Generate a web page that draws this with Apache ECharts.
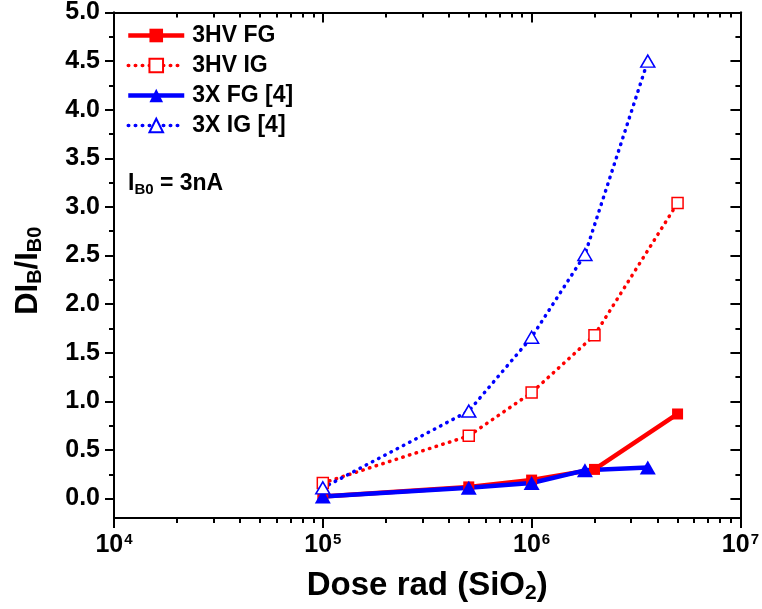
<!DOCTYPE html>
<html>
<head>
<meta charset="utf-8">
<script src="https://cdn.jsdelivr.net/npm/echarts@6/dist/echarts.min.js"></script>
<style>html,body{margin:0;padding:0;background:#fff}#c{width:762px;height:609px}</style>
</head>
<body>
<div id="c"></div>
<script>
// ---- data ----
const seriesNames = ['3HV FG', '3HV IG', '3X FG [4]', '3X IG [4]'];
const doseHV = [1e5, 5e5, 1e6, 2e6, 5e6];
const doseX = [1e5, 5e5, 1e6, 1.8e6, 3.6e6];
const hvFG = [0.02, 0.12, 0.19, 0.30, 0.87];
const hvIG = [0.16, 0.645, 1.09, 1.68, 3.04];
const xFG = [0.02, 0.11, 0.16, 0.29, 0.32];
const xIG = [0.11, 0.90, 1.66, 2.51, 4.50];
const xMajorTicks = [1e4, 1e5, 1e6, 1e7];
const xMinorTicks = [2e4,3e4,4e4,5e4,6e4,7e4,8e4,9e4,2e5,3e5,4e5,5e5,6e5,7e5,8e5,9e5,2e6,3e6,4e6,5e6,6e6,7e6,8e6,9e6];
const yMajorTicks = [0,0.5,1.0,1.5,2.0,2.5,3.0,3.5,4.0,4.5,5.0];
const yMinorTicks = [0.25,0.75,1.25,1.75,2.25,2.75,3.25,3.75,4.25,4.75];

const FONT = 'Liberation Sans, Arial, sans-serif';
const pairs = (xs, ys) => xs.map((x, i) => [x, ys[i]]);

function xAx(pos, ticks, len, inside, labels) {
  return {
    type: 'log', logBase: 10, min: 1e4, max: 1e7, position: pos,
    axisLine: { show: true, onZero: false, lineStyle: { color: '#000', width: 2 } },
    axisTick: { show: true, inside: inside, length: len, customValues: ticks, lineStyle: { color: '#000', width: 2 } },
    axisLabel: labels ? {
      show: true, customValues: ticks, margin: 14,
      formatter: v => '{b|10}{s|' + Math.round(Math.log10(v)) + '}',
      rich: {
        b: { fontSize: 25, fontWeight: 'bold', fontFamily: FONT, color: '#000', lineHeight: 26 },
        s: { fontSize: 15, fontWeight: 'bold', fontFamily: FONT, color: '#000', verticalAlign: 'top', lineHeight: 26, padding: [0, 0, 13, 1] }
      }
    } : { show: false },
    splitLine: { show: false }, minorTick: { show: false }
  };
}
function yAx(pos, ticks, len, inside, labels) {
  return {
    type: 'value', min: -0.2, max: 5.0, position: pos,
    axisLine: { show: true, onZero: false, lineStyle: { color: '#000', width: 2 } },
    axisTick: { show: true, inside: inside, length: len, customValues: ticks, lineStyle: { color: '#000', width: 2 } },
    axisLabel: labels ? {
      show: true, customValues: ticks, margin: 14,
      formatter: v => v.toFixed(1),
      fontSize: 25, fontWeight: 'bold', fontFamily: FONT, color: '#000'
    } : { show: false },
    splitLine: { show: false }
  };
}

const xAxes = [
  xAx('bottom', xMajorTicks, 10, false, true),
  xAx('bottom', xMinorTicks, 5, false, false),
  xAx('top', xMajorTicks, 10, true, false),
  xAx('top', xMinorTicks, 5, true, false)
];
xAxes[0].name = '{t|Dose rad (SiO}{u|2}{t|)}';
xAxes[0].nameLocation = 'middle';
xAxes[0].nameGap = 50;
xAxes[0].nameTextStyle = {
  rich: {
    t: { fontSize: 33, fontWeight: 'bold', fontFamily: FONT, color: '#000', lineHeight: 36 },
    u: { fontSize: 21, fontWeight: 'bold', fontFamily: FONT, color: '#000', lineHeight: 36, verticalAlign: 'bottom', padding: [14, 0, 0, 0] }
  }
};
const yAxes = [
  yAx('left', yMajorTicks, 9, false, true),
  yAx('left', yMinorTicks, 5, false, false),
  yAx('right', yMajorTicks, 10, true, false),
  yAx('right', yMinorTicks, 5, true, false)
];
yAxes[0].name = '{t|DI}{u|B}{t|/I}{u|B0}{p|}';
yAxes[0].nameLocation = 'middle';
yAxes[0].nameGap = 69;
yAxes[0].nameTextStyle = {
  rich: {
    t: { fontSize: 31, fontWeight: 'bold', fontFamily: FONT, color: '#000', lineHeight: 34 },
    u: { fontSize: 20, fontWeight: 'bold', fontFamily: FONT, color: '#000', lineHeight: 34, verticalAlign: 'bottom', padding: [12, 0, 0, 0] },
    p: { width: 11, lineHeight: 34 }
  }
};

const RED = '#ff0000', BLUE = '#0000ff';
const dotted = (c) => ({ color: c, width: 3.5, type: [0.5, 6.5], cap: 'round' });
const solid = (c) => ({ color: c, width: 4.5 });

const option = {
  backgroundColor: '#fff',
  animation: false,
  grid: { left: 114, right: 19, top: 11, bottom: 91, containLabel: false },
  xAxis: xAxes,
  yAxis: yAxes,
  legend: {
    orient: 'vertical', left: 126, top: 24, padding: 0, itemWidth: 56, itemHeight: 17, itemGap: 7,
    data: [
      { name: seriesNames[0], lineStyle: solid(RED) },
      { name: seriesNames[1], lineStyle: dotted(RED) },
      { name: seriesNames[2], lineStyle: solid(BLUE) },
      { name: seriesNames[3], lineStyle: dotted(BLUE) }
    ],
    textStyle: { fontSize: 23, fontWeight: 'bold', fontFamily: FONT, color: '#000', lineHeight: 23, padding: [0, 0, 0, 3] }
  },
  graphic: [{
    type: 'text', left: 128, top: 172,
    style: {
      text: '{a|I}{s|B0}{a| = 3nA}',
      rich: {
        a: { fontSize: 23, fontWeight: 'bold', fontFamily: FONT, fill: '#000', lineHeight: 26 },
        s: { fontSize: 15, fontWeight: 'bold', fontFamily: FONT, fill: '#000', lineHeight: 26, verticalAlign: 'bottom', padding: [10, 0, 0, 0] }
      }
    }
  }],
  series: [
    { name: seriesNames[0], type: 'line', data: pairs(doseHV, hvFG), symbol: 'rect', symbolSize: 11,
      lineStyle: solid(RED), itemStyle: { color: RED } },
    { name: seriesNames[1], type: 'line', data: pairs(doseHV, hvIG), symbol: 'rect', symbolSize: 11,
      lineStyle: dotted(RED), itemStyle: { color: '#fff', borderColor: RED, borderWidth: 1.5 } },
    { name: seriesNames[2], type: 'line', data: pairs(doseX, xFG), symbol: 'triangle', symbolSize: [16, 14],
      lineStyle: solid(BLUE), itemStyle: { color: BLUE } },
    { name: seriesNames[3], type: 'line', data: pairs(doseX, xIG), symbol: 'triangle', symbolSize: [14, 12],
      lineStyle: dotted(BLUE), itemStyle: { color: '#fff', borderColor: BLUE, borderWidth: 1.5 } }
  ]
};
const chart = echarts.init(document.getElementById('c'), null, { renderer: 'canvas' });
chart.setOption(option);
</script>
</body>
</html>
